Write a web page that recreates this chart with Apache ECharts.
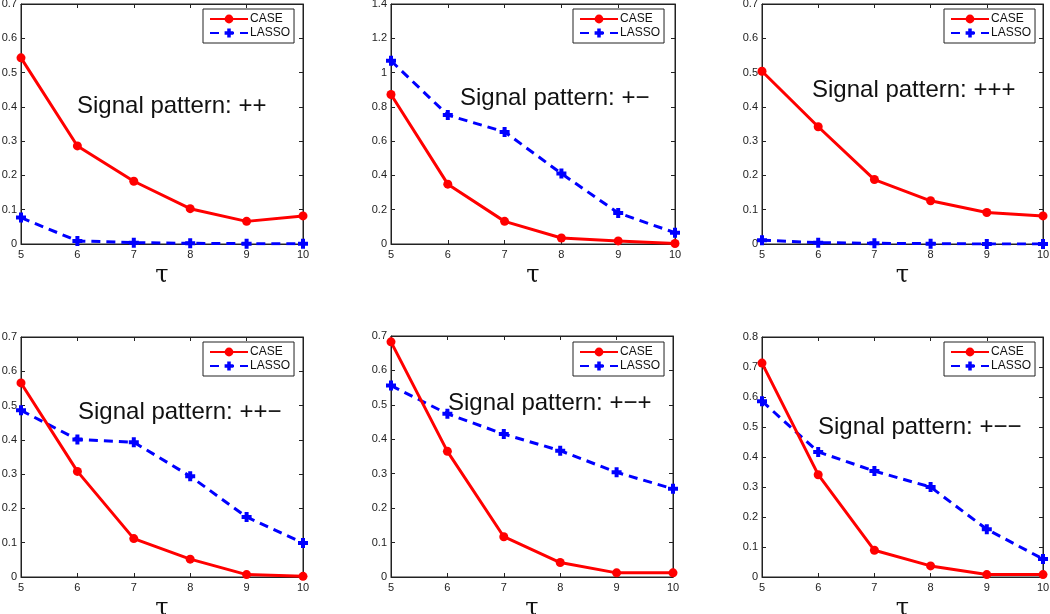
<!DOCTYPE html>
<html>
<head>
<meta charset="utf-8">
<script src="https://cdn.jsdelivr.net/npm/echarts@6/dist/echarts.min.js"></script>
<style>
html,body{margin:0;padding:0;background:#fff;}
#c{width:1050px;height:614px;}
</style>
</head>
<body>
<div id="c"></div>
<script>
const taus = [5, 6, 7, 8, 9, 10];
const patterns = ['++', '+\u2212', '+++', '++\u2212', '+\u2212+', '+\u2212\u2212'];
const yMaxes = [0.7, 1.4, 0.7, 0.7, 0.7, 0.8];
const ySteps = [0.1, 0.2, 0.1, 0.1, 0.1, 0.1];

const case1 = [0.543, 0.286, 0.183, 0.103, 0.066, 0.082];
const lasso1 = [0.077, 0.009, 0.004, 0.002, 0.001, 0.001];
const case2 = [0.872, 0.349, 0.132, 0.035, 0.018, 0.003];
const lasso2 = [1.069, 0.752, 0.654, 0.411, 0.181, 0.066];
const case3 = [0.504, 0.342, 0.188, 0.126, 0.092, 0.082];
const lasso3 = [0.011, 0.004, 0.002, 0.001, 0.000, 0.000];
const case4 = [0.566, 0.308, 0.112, 0.052, 0.007, 0.002];
const lasso4 = [0.486, 0.401, 0.393, 0.294, 0.175, 0.099];
const case5 = [0.683, 0.365, 0.117, 0.042, 0.012, 0.012];
const lasso5 = [0.556, 0.474, 0.415, 0.367, 0.304, 0.256];
const case6 = [0.713, 0.341, 0.089, 0.037, 0.008, 0.008];
const lasso6 = [0.586, 0.417, 0.353, 0.300, 0.159, 0.060];

const caseSets = [case1, case2, case3, case4, case5, case6];
const lassoSets = [lasso1, lasso2, lasso3, lasso4, lasso5, lasso6];

// layout
const grids = [
  {left: 21, top: 4, width: 282, height: 240},
  {left: 391, top: 4, width: 284, height: 240},
  {left: 762, top: 4, width: 281, height: 240},
  {left: 21, top: 337, width: 282, height: 240},
  {left: 391, top: 336, width: 282, height: 241},
  {left: 762, top: 337, width: 281, height: 240}
];
const legendPos = [
  {left: 203, top: 9}, {left: 573, top: 9}, {left: 944, top: 9},
  {left: 203, top: 342}, {left: 573, top: 342}, {left: 944, top: 342}
];
const textPos = [
  [77, 106], [460, 98], [812, 90], [78, 412], [448, 403], [818, 427]
];

const font = 'Liberation Sans, Arial, sans-serif';
const plusPath = 'path://M3,0 L7,0 L7,3 L10,3 L10,7 L7,7 L7,10 L3,10 L3,7 L0,7 L0,3 L3,3 Z';

const option = {
  animation: false,
  backgroundColor: '#fff',
  grid: [], xAxis: [], yAxis: [], series: [], legend: [], graphic: []
};

grids.forEach((g, k) => {
  option.grid.push(Object.assign({show: true, borderColor: '#222', borderWidth: 1, backgroundColor: '#fff', containLabel: false, outerBoundsMode: 'none'}, g));
  option.xAxis.push({
    type: 'value', gridIndex: k, min: 5, max: 10, interval: 1, position: 'bottom',
    name: '\u03c4', nameLocation: 'middle', nameGap: 20,
    nameTextStyle: {fontSize: 24, color: '#111', fontFamily: 'DejaVu Serif, serif'},
    axisLine: {show: true, onZero: false, lineStyle: {color: '#222', width: 1}},
    axisTick: {show: true, inside: true, length: 4, lineStyle: {color: '#222'}},
    axisLabel: {fontSize: 11, color: '#222', margin: 5, fontFamily: font},
    splitLine: {show: false}
  });
  option.xAxis.push({
    type: 'value', gridIndex: k, min: 5, max: 10, interval: 1, position: 'top',
    axisLine: {show: true, onZero: false, lineStyle: {color: '#222', width: 1}},
    axisTick: {show: true, inside: true, length: 4, lineStyle: {color: '#222'}},
    axisLabel: {show: false}, splitLine: {show: false}
  });
  option.yAxis.push({
    type: 'value', gridIndex: k, min: 0, max: yMaxes[k], interval: ySteps[k], position: 'left',
    axisLine: {show: true, onZero: false, lineStyle: {color: '#222', width: 1}},
    axisTick: {show: true, inside: true, length: 4, lineStyle: {color: '#222'}},
    axisLabel: {fontSize: 11, color: '#222', margin: 4, fontFamily: font},
    splitLine: {show: false}
  });
  option.yAxis.push({
    type: 'value', gridIndex: k, min: 0, max: yMaxes[k], interval: ySteps[k], position: 'right',
    axisLine: {show: true, onZero: false, lineStyle: {color: '#222', width: 1}},
    axisTick: {show: true, inside: true, length: 4, lineStyle: {color: '#222'}},
    axisLabel: {show: false}, splitLine: {show: false}
  });
  option.series.push({
    name: 'CASE', type: 'line', xAxisIndex: 2 * k, yAxisIndex: 2 * k,
    data: taus.map((t, i) => [t, caseSets[k][i]]),
    symbol: 'circle', symbolSize: 9, showAllSymbol: true,
    lineStyle: {color: '#ff0000', width: 3},
    itemStyle: {color: '#ff0000'}, z: 3
  });
  option.series.push({
    name: 'LASSO', type: 'line', xAxisIndex: 2 * k, yAxisIndex: 2 * k,
    data: taus.map((t, i) => [t, lassoSets[k][i]]),
    symbol: plusPath, symbolSize: 10, showAllSymbol: true,
    lineStyle: {color: '#0000ff', width: 3, type: [9, 6]},
    itemStyle: {color: '#0000ff'}, z: 2
  });
  option.legend.push(Object.assign({
    data: ['CASE', 'LASSO'], orient: 'vertical',
    backgroundColor: '#fff', borderColor: '#222', borderWidth: 1,
    padding: [4, 4, 4, 6], itemGap: 2, itemWidth: 38, itemHeight: 11,
    textStyle: {fontSize: 12, color: '#111', fontFamily: font, padding: [0, 0, 0, -3]},
    selectedMode: false
  }, legendPos[k]));
  option.graphic.push({
    type: 'text', left: textPos[k][0], top: textPos[k][1] - 12, z: 10,
    style: {text: 'Signal pattern: ' + patterns[k], font: '24px ' + font, fill: '#111'}
  });
});

const chart = echarts.init(document.getElementById('c'), null, {renderer: 'canvas'});
chart.setOption(option);
</script>
</body>
</html>
